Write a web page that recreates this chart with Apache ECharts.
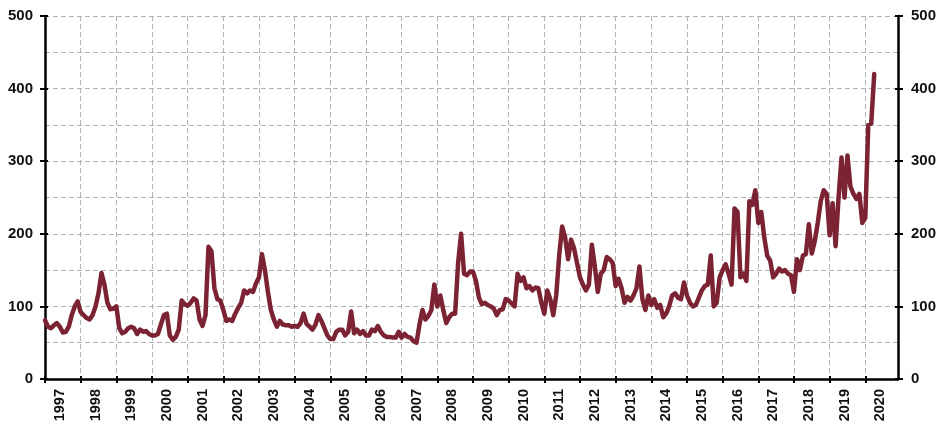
<!DOCTYPE html>
<html>
<head>
<meta charset="utf-8">
<script src="https://cdn.jsdelivr.net/npm/echarts@6/dist/echarts.min.js"></script>
<style>
html,body{margin:0;padding:0;background:#fff;}
#chart{width:945px;height:433px;}
</style>
</head>
<body>
<div id="chart"></div>
<script>
// Monthly values, Jan 1997 .. Apr 2020
const v1997 = [81, 72, 70, 74, 77, 72, 64, 65, 72, 88, 100, 107];
const v1998 = [92, 88, 84, 82, 88, 100, 118, 146, 130, 105, 96, 97];
const v1999 = [100, 70, 63, 65, 70, 72, 70, 62, 68, 65, 66, 62];
const v2000 = [60, 60, 62, 75, 88, 90, 60, 54, 58, 68, 108, 103];
const v2001 = [101, 105, 111, 108, 82, 73, 88, 182, 176, 125, 110, 108];
const v2002 = [95, 80, 82, 80, 90, 98, 105, 122, 118, 122, 120, 132];
const v2003 = [140, 172, 150, 120, 95, 82, 72, 80, 75, 74, 74, 72];
const v2004 = [73, 72, 77, 90, 76, 72, 68, 75, 88, 80, 70, 60];
const v2005 = [55, 55, 65, 68, 68, 60, 65, 93, 63, 68, 62, 66];
const v2006 = [60, 60, 68, 66, 73, 65, 60, 58, 58, 57, 57, 65];
const v2007 = [57, 62, 58, 57, 52, 50, 75, 95, 82, 87, 95, 130];
const v2008 = [100, 115, 95, 77, 85, 90, 90, 160, 200, 145, 143, 148];
const v2009 = [148, 135, 112, 103, 105, 102, 100, 97, 88, 95, 96, 110];
const v2010 = [108, 104, 100, 145, 135, 140, 125, 128, 122, 126, 125, 105];
const v2011 = [90, 122, 110, 88, 115, 170, 210, 195, 165, 192, 180, 160];
const v2012 = [140, 130, 122, 130, 185, 155, 120, 145, 150, 168, 165, 160];
const v2013 = [128, 138, 125, 105, 113, 108, 115, 125, 155, 110, 95, 115];
const v2014 = [102, 110, 98, 102, 85, 90, 100, 115, 118, 112, 110, 133];
const v2015 = [115, 105, 100, 102, 112, 122, 128, 130, 170, 100, 105, 140];
const v2016 = [150, 158, 145, 130, 235, 230, 140, 145, 135, 245, 240, 260];
const v2017 = [215, 230, 195, 170, 163, 140, 145, 152, 148, 150, 145, 143];
const v2018 = [120, 165, 150, 170, 172, 213, 173, 190, 215, 245, 260, 255];
const v2019 = [198, 242, 183, 250, 305, 250, 308, 265, 255, 248, 255, 215];
const v2020 = [222, 350, 352, 420];

const startYear = 1997;
const endYear = 2020;
const yTicks = [0, 100, 200, 300, 400, 500];

const values = [].concat(v1997, v1998, v1999, v2000, v2001, v2002, v2003, v2004,
  v2005, v2006, v2007, v2008, v2009, v2010, v2011, v2012, v2013, v2014, v2015,
  v2016, v2017, v2018, v2019, v2020);

const categories = [];
for (let y = startYear; y <= endYear; y++) {
  for (let m = 1; m <= 12; m++) categories.push(y + '-' + (m < 10 ? '0' + m : m));
}
while (values.length < categories.length) values.push(null);

const FONT = 'Liberation Sans, Arial, sans-serif';
const gridDash = { color: '#b3b3b3', width: 1, type: [5, 3] };

const chart = echarts.init(document.getElementById('chart'), null, { renderer: 'canvas' });
const yBase = { type: 'value', min: yTicks[0], max: yTicks[yTicks.length - 1], interval: 100 };

chart.setOption({
  animation: false,
  backgroundColor: '#fff',
  grid: { left: 45, right: 47, top: 16, bottom: 54, containLabel: false },
  xAxis: [
    {
      type: 'category', data: categories, boundaryGap: false, position: 'bottom',
      axisLine: { lineStyle: { color: '#000', width: 2.5 } },
      axisTick: { show: true, length: 4, lineStyle: { color: '#000', width: 2 },
        interval: (i) => i % 12 === 0 },
      axisLabel: { interval: (i) => i % 12 === 5, rotate: 90, margin: 10,
        formatter: (v) => v.slice(0, 4),
        color: '#111', fontFamily: FONT, fontWeight: 'bold', fontSize: 14.5 },
      splitLine: { show: true, interval: (i) => i % 12 === 0, lineStyle: gridDash }
    },
    {
      type: 'category', data: categories, boundaryGap: false, position: 'bottom',
      axisLine: { show: false },
      axisTick: { show: true, inside: true, length: 3, lineStyle: { color: '#000', width: 2 },
        interval: (i) => i % 12 === 0 },
      axisLabel: { show: false },
      splitLine: { show: false }
    }
  ],
  yAxis: [
    Object.assign({}, yBase, {
      position: 'left',
      axisLine: { show: true, lineStyle: { color: '#000', width: 2.5 } },
      axisTick: { show: true, length: 5, lineStyle: { color: '#000', width: 2 } },
      axisLabel: { margin: 12, color: '#111', fontFamily: FONT, fontWeight: 'bold', fontSize: 15 },
      splitLine: { show: false }
    }),
    Object.assign({}, yBase, {
      position: 'right',
      axisLine: { show: true, lineStyle: { color: '#000', width: 2.5 } },
      axisTick: { show: true, length: 5, lineStyle: { color: '#000', width: 2 } },
      axisLabel: { margin: 13, color: '#111', fontFamily: FONT, fontWeight: 'bold', fontSize: 15 },
      splitLine: { show: false }
    }),
    {
      type: 'value', min: 0, max: 500, interval: 50, position: 'left',
      axisLine: { show: false }, axisTick: { show: false }, axisLabel: { show: false },
      splitLine: { show: true, lineStyle: gridDash }
    },
    Object.assign({}, yBase, {
      position: 'left',
      axisLine: { show: false }, axisLabel: { show: false }, splitLine: { show: false },
      axisTick: { show: true, inside: true, length: 3, lineStyle: { color: '#000', width: 2 } }
    }),
    Object.assign({}, yBase, {
      position: 'right',
      axisLine: { show: false }, axisLabel: { show: false }, splitLine: { show: false },
      axisTick: { show: true, inside: true, length: 3, lineStyle: { color: '#000', width: 2 } }
    })
  ],
  series: [{
    type: 'line',
    data: values,
    xAxisIndex: 0,
    yAxisIndex: 0,
    showSymbol: false,
    symbol: 'none',
    connectNulls: false,
    lineStyle: { color: '#7b2233', width: 4.5, join: 'round', cap: 'round' },
    z: 5
  }]
});
</script>
</body>
</html>
